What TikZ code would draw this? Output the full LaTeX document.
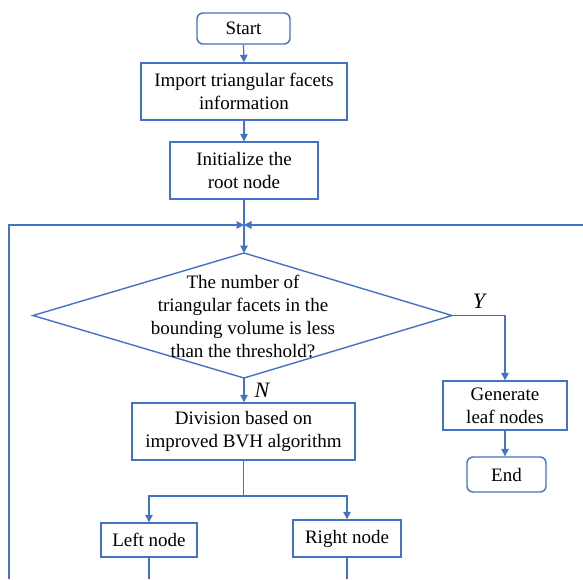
\documentclass[tikz,border=0pt]{standalone}
\usepackage{fontspec}
\setmainfont{Liberation Serif}
\usetikzlibrary{arrows.meta}
\definecolor{flow}{HTML}{4472C4}
\begin{document}
\begin{tikzpicture}[x=1pt,y=-1pt,
  every node/.style={font=\fontsize{19}{23}\selectfont, align=center, inner sep=0pt},
  box/.style={draw=flow, line width=1.4pt, rectangle},
  term/.style={box, rounded corners=6pt},
  conn/.style={draw=flow, line width=1.2pt},
  arr/.style={conn, -{Triangle[width=7.5pt,length=7.5pt]}},
  lbl/.style={font=\fontsize{22}{22}\selectfont\itshape}]
\useasboundingbox (0,0) rectangle (583,579);

\node[term, minimum width=93pt, minimum height=31pt] (start) at (243.5,28.5) {Start};
\node[box, minimum width=206pt, minimum height=57pt] (import) at (244,91.5) {Import triangular facets\\information};
\node[box, minimum width=148pt, minimum height=57pt] (init) at (244,170.5) {Initialize the\\root node};

\coordinate (junc) at (244,225);
\coordinate (ltop) at (9,225);
\coordinate (lbot) at (9,579);
\coordinate (redge) at (583,225);

\coordinate (dt) at (244,253);
\coordinate (dl) at (33,315.5);
\coordinate (dr) at (452,315.5);
\coordinate (db) at (244,378);
\draw[flow, line width=1.4pt] (dt) -- (dr) -- (db) -- (dl) -- cycle;
\node (dtext) at (243,316.5) {The number of\\triangular facets in the\\bounding volume is less\\than the threshold?};

\node[box, minimum width=124pt, minimum height=49pt] (gen) at (505,405.5) {Generate\\leaf nodes};
\node[term, minimum width=79pt, minimum height=35pt] (end) at (506.5,474.5) {End};

\node[box, minimum width=223pt, minimum height=57pt] (div) at (243.5,431.5) {Division based on\\improved BVH algorithm};
\node[box, minimum width=96pt, minimum height=34pt] (lnode) at (149,540) {Left node};
\node[box, minimum width=108pt, minimum height=37pt] (rnode) at (347,538.5) {Right node};
\coordinate (bj) at (243.5,496);

\node[lbl] (ylab) at (479,301) {Y};
\node[lbl] (nlab) at (262,390) {N};

% connectors
\draw[arr] (start.south) -- (import.north);
\draw[arr] (import.south) -- (init.north);
\draw[conn] (init.south) -- (junc);
\draw[arr] (junc) -- (dt);
\draw[arr] (lbot) -- (ltop) -- (junc);
\draw[arr] (redge) -- (junc);
\draw[arr] (dr) -| (gen.north);
\draw[arr] (gen.south) -- (gen.south |- end.north);
\draw[arr] (db) -- (db |- div.north);
\draw[conn] (div.south) -- (div.south |- bj);
\draw[arr] (bj) -| (lnode.north);
\draw[arr] (bj) -| (rnode.north);
\draw[conn] (lnode.south) -- (lnode.south |- lbot);
\draw[conn] (rnode.south) -- (rnode.south |- lbot);
\end{tikzpicture}
\end{document}
